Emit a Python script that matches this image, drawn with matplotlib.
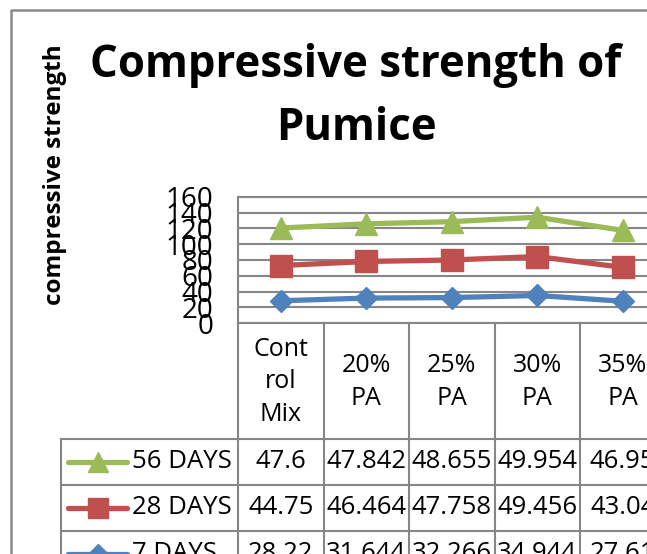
import numpy as np
import matplotlib
matplotlib.use("Agg")
from matplotlib import pyplot as plt
from matplotlib.lines import Line2D

# data (stacked line chart, values per series as in the data table)
categories = ["Cont\nrol\nMix", "20%\nPA", "25%\nPA", "30%\nPA", "35%\nPA"]
series_names = ["56 DAYS", "28 DAYS", "7 DAYS"]
days7 = [28.22, 31.644, 32.266, 34.944, 27.61]
days28 = [44.75, 46.464, 47.758, 49.456, 43.04]
days56 = [47.6, 47.842, 48.655, 49.954, 46.95]
table_text = {
    "56 DAYS": ["47.6", "47.842", "48.655", "49.954", "46.95"],
    "28 DAYS": ["44.75", "46.464", "47.758", "49.456", "43.04"],
    "7 DAYS": ["28.22", "31.644", "32.266", "34.944", "27.61"],
}
yticks = [0, 20, 40, 60, 80, 100, 120, 140, 160]

GREEN = "#9BBB59"
RED = "#C0504D"
BLUE = "#4F81BD"
GRID = "#868686"

plt.rcParams["font.family"] = ["Open Sans", "DejaVu Sans"]

W, H = 647, 554
fig = plt.figure(figsize=(W / 100, H / 100), dpi=100)

def frac(x0, y0, x1, y1):
    # pixel box (y down) -> figure fraction rect
    return [x0 / W, 1 - y1 / H, (x1 - x0) / W, (y1 - y0) / H]

# plot area; columns run off the right edge like the cropped original
col_w = 85.5
px_left, px_top, px_bot = 238, 197, 323
ax = fig.add_axes(frac(px_left, px_top, px_left + col_w * 5, px_bot))
x = np.arange(len(categories))
stack7 = np.array(days7)
stack28 = stack7 + np.array(days28)
stack56 = stack28 + np.array(days56)

ax.plot(x, stack7, color=BLUE, lw=3.8, marker="D", ms=11.5, zorder=3)
ax.plot(x, stack28, color=RED, lw=3.8, marker="s", ms=15.5, zorder=3)
ax.plot(x, stack56, color=GREEN, lw=3.8, marker="^", ms=16, zorder=3)

ax.set_xlim(-0.5, len(categories) - 0.5)
ax.set_ylim(0, 160)
ax.set_yticks(yticks)
ax.set_yticklabels([str(v) for v in yticks], fontsize=20)
ax.set_xticks([])
ax.tick_params(axis="y", length=0, pad=18)
ax.grid(axis="y", color=GRID, lw=1.5)
ax.spines["right"].set_visible(False)
for s in ["left", "top", "bottom"]:
    ax.spines[s].set_color(GRID)
    ax.spines[s].set_linewidth(1.5)
ax.set_axisbelow(True)

# overlay in pixel coordinates for the chart border, titles and data table
ov = fig.add_axes([0, 0, 1, 1], zorder=5)
ov.set_xlim(0, W)
ov.set_ylim(H, 0)
ov.axis("off")
ov.patch.set_alpha(0)

# chart border
ov.plot([11, 11, W + 5], [H + 5, 10, 10], color="#8a8a8a", lw=1.8)

ov.text(356, 65, "Compressive strength of", ha="center", va="center",
        fontsize=31.5, fontweight="bold")
ov.text(356, 129, "Pumice", ha="center", va="center",
        fontsize=31.5, fontweight="bold")
ov.text(55, 175, "compressive strength", rotation=90, ha="center", va="center",
        fontsize=17.5, fontweight="bold")

# data table
col_edges = [px_left + col_w * i for i in range(len(categories) + 1)]
row_edges = [px_bot, 439, 485, 531, 577]
for xe in col_edges:
    ov.plot([xe, xe], [px_bot, H + 5], color=GRID, lw=1.5)
ov.plot([61, 61], [row_edges[1], H + 5], color=GRID, lw=1.5)
for ye in row_edges[1:]:
    ov.plot([61, W + 5], [ye, ye], color=GRID, lw=1.5)

for i, cat in enumerate(categories):
    ov.text(col_edges[i] + col_w / 2, (px_bot + row_edges[1]) / 2 + 1, cat,
            ha="center", va="center", fontsize=18, linespacing=1.4)

markers = {"56 DAYS": (GREEN, "^", 14), "28 DAYS": (RED, "s", 14), "7 DAYS": (BLUE, "D", 10)}
for r, name in enumerate(series_names):
    yc = (row_edges[r + 1] + row_edges[r + 2]) / 2
    color, mk, ms = markers[name]
    ov.add_line(Line2D([68, 127], [yc, yc], color=color, lw=3.8,
                       solid_capstyle="round"))
    ov.plot([97.5], [yc], marker=mk, color=color, ms=ms)
    ov.text(132, yc, name, ha="left", va="center", fontsize=18.5)
    for i, val in enumerate(table_text[name]):
        ov.text(col_edges[i] + col_w / 2, yc, val, ha="center", va="center",
                fontsize=18.5)

fig.savefig("out.png", dpi=100)
